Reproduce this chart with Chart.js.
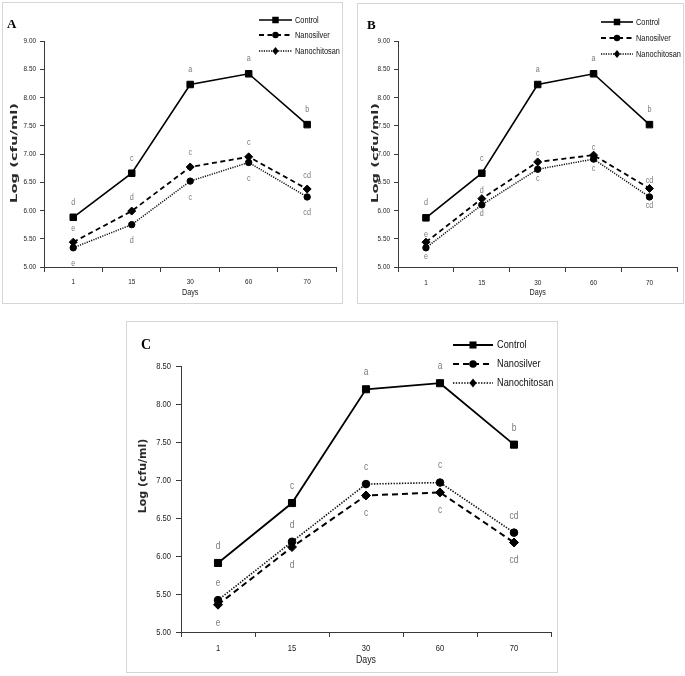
<!DOCTYPE html>
<html><head><meta charset="utf-8">
<script src="https://cdn.jsdelivr.net/npm/chart.js@4.4.1/dist/chart.umd.min.js"></script>
<style>
html,body{margin:0;padding:0;background:#fff;width:685px;height:676px;overflow:hidden;}
.panel{position:absolute;border:1px solid #d6d6d6;background:#fff;}
.panel canvas{display:block;}
</style></head><body>
<div class="panel" style="left:2px;top:2px;width:339px;height:300px"><canvas id="cA" width="339" height="300"></canvas></div>
<div class="panel" style="left:357px;top:3px;width:325px;height:299px"><canvas id="cB" width="325" height="299"></canvas></div>
<div class="panel" style="left:126px;top:321px;width:430px;height:350px"><canvas id="cC" width="430" height="350"></canvas></div>
<script>
// ---- data ----
const days = ['1', '15', '30', '60', '70'];
const seriesNames = ['Control', 'Nanosilver', 'Nanochitosan'];

const controlA = [5.88, 6.66, 8.23, 8.42, 7.52];
const silverA  = [5.44, 5.99, 6.77, 6.95, 6.38];
const chitoA   = [5.34, 5.75, 6.52, 6.85, 6.24];

const controlB = [5.87, 6.66, 8.23, 8.42, 7.52];
const silverB  = [5.44, 6.21, 6.86, 6.98, 6.39];
const chitoB   = [5.34, 6.10, 6.73, 6.91, 6.24];

const controlC = [5.91, 6.70, 8.20, 8.28, 7.47];
const silverC  = [5.36, 6.12, 6.80, 6.84, 6.18];
const chitoC   = [5.42, 6.19, 6.95, 6.97, 6.31];

const lettersControl = ['d', 'c', 'a', 'a', 'b'];
const lettersNano    = ['e', 'd', 'c', 'c', 'cd'];

const yRangeAB = [5, 9];
const yRangeC  = [5, 8.5];
const yStep = 0.5;

const panelLetters = ['A', 'B', 'C'];
const yTitle = 'Log (cfu/ml)';
const xTitle = 'Days';

// ---- drawing ----
const SANS = "'Liberation Sans',Arial,sans-serif";
const SQUEEZE = 0.8;

function narrowText(ctx, text, x, y, size, align, color) {
  ctx.save();
  ctx.translate(x, y);
  ctx.scale(SQUEEZE, 1);
  ctx.font = size + 'px ' + SANS;
  ctx.fillStyle = color;
  ctx.textAlign = align;
  ctx.textBaseline = 'middle';
  ctx.fillText(text, 0, 0);
  ctx.restore();
}

function marker(ctx, style, x, y, r) {
  ctx.beginPath();
  if (style === 'rect') { const s = r * Math.SQRT1_2; ctx.rect(x - s, y - s, 2 * s, 2 * s); }
  else if (style === 'circle') { ctx.arc(x, y, r, 0, Math.PI * 2); }
  else { ctx.moveTo(x, y - r); ctx.lineTo(x + r * 0.8, y); ctx.lineTo(x, y + r); ctx.lineTo(x - r * 0.8, y); ctx.closePath(); }
  ctx.fillStyle = '#000'; ctx.fill();
}

const deco = {
  id: 'deco',
  afterDraw(chart) {
    const o = chart.options.plugins.deco;
    const ctx = chart.ctx;
    const xs = chart.scales.x, ys = chart.scales.y;
    ctx.save();
    // tick labels (narrow)
    xs.ticks.forEach((t, i) => {
      narrowText(ctx, xs.getLabelForValue(t.value), xs.getPixelForTick(i), xs.top + o.xLblOff, o.xTick, 'center', '#222');
    });
    ys.ticks.forEach((t, i) => {
      narrowText(ctx, Number(t.value).toFixed(2), ys.right - o.yLblOff, ys.getPixelForTick(i), o.yTick, 'right', '#222');
    });
    // x title
    narrowText(ctx, xTitle, (chart.chartArea.left + chart.chartArea.right) / 2, xs.top + o.xTitleOff, o.xTitle, 'center', '#1a1a1a');
    // panel letter
    ctx.fillStyle = '#000';
    ctx.font = "bold " + o.lblSize + "px 'Liberation Serif','DejaVu Serif',serif";
    ctx.textAlign = 'left'; ctx.textBaseline = 'middle';
    ctx.fillText(o.letter, o.lblX, o.lblY);
    // y title
    ctx.save();
    ctx.translate(o.ytX, o.ytY);
    ctx.rotate(-Math.PI / 2);
    ctx.scale(o.ytScale, 1);
    ctx.font = "bold " + o.ytSize + "px 'DejaVu Sans',Verdana,sans-serif";
    ctx.fillStyle = '#2a2a2a'; ctx.textAlign = 'center'; ctx.textBaseline = 'middle';
    ctx.fillText(yTitle, 0, 0);
    ctx.restore();
    // legend
    const legendStyles = [
      {dash: [], w: o.lw[0], m: 'rect', r: o.mk[0]},
      {dash: o.dash1, w: o.lw[1], m: 'circle', r: o.mk[2]},
      {dash: o.dash2, w: o.lw[2], m: 'diamond', r: o.mk[1]}
    ];
    legendStyles.forEach((s, i) => {
      const y = o.legRows[i];
      ctx.save();
      ctx.strokeStyle = '#000'; ctx.lineWidth = s.w; ctx.setLineDash(s.dash);
      ctx.beginPath(); ctx.moveTo(o.legX0, y); ctx.lineTo(o.legX1, y); ctx.stroke();
      ctx.restore();
      marker(ctx, s.m, (o.legX0 + o.legX1) / 2, y, s.r);
      narrowText(ctx, seriesNames[i], o.legTX, y, o.legSize, 'left', '#111');
    });
    // significance letters
    const d = chart.data.datasets;
    for (let i = 0; i < days.length; i++) {
      const x = xs.getPixelForValue(i);
      narrowText(ctx, lettersControl[i], x, ys.getPixelForValue(d[0].data[i]) - o.offC, o.sigSize, 'center', '#7a7a7a');
      const hi = Math.max(d[1].data[i], d[2].data[i]);
      const lo = Math.min(d[1].data[i], d[2].data[i]);
      narrowText(ctx, lettersNano[i], x, ys.getPixelForValue(hi) - o.offUp, o.sigSize, 'center', '#7a7a7a');
      narrowText(ctx, lettersNano[i], x, ys.getPixelForValue(lo) + o.offDn, o.sigSize, 'center', '#7a7a7a');
    }
    ctx.restore();
  }
};

function makeChart(id, ctrl, silver, chito, range, p) {
  const axisColor = '#3a3a3a';
  new Chart(document.getElementById(id), {
    type: 'line',
    data: {
      labels: days,
      datasets: [
        {label: seriesNames[0], data: ctrl, borderColor: '#000', borderWidth: p.lw[0],
         pointStyle: 'rect', pointRadius: p.mk[0], pointBackgroundColor: '#000', pointBorderColor: '#000', pointBorderWidth: 1},
        {label: seriesNames[1], data: silver, borderColor: '#000', borderWidth: p.lw[1], borderDash: p.dash1,
         pointStyle: 'rectRot', pointRadius: p.mk[1], pointBackgroundColor: '#000', pointBorderColor: '#000', pointBorderWidth: 1},
        {label: seriesNames[2], data: chito, borderColor: '#111', borderWidth: p.lw[2], borderDash: p.dash2,
         pointStyle: 'circle', pointRadius: p.mk[2], pointBackgroundColor: '#000', pointBorderColor: '#000', pointBorderWidth: 1}
      ]
    },
    options: {
      responsive: false, animation: false, events: [],
      layout: {padding: {left: 0, right: p.padR, top: p.padT, bottom: 0}},
      plugins: {legend: {display: false}, tooltip: {enabled: false}, deco: p},
      scales: {
        x: {
          offset: true,
          grid: {offset: true, drawOnChartArea: false, drawTicks: true, tickLength: 5, color: axisColor},
          border: {color: axisColor, width: 1},
          ticks: {display: false, autoSkip: false},
          title: {display: false},
          afterFit: s => { s.height = p.xH; }
        },
        y: {
          min: range[0], max: range[1],
          grid: {drawOnChartArea: false, drawTicks: true, tickLength: p.yTL, color: axisColor},
          border: {color: axisColor, width: 1},
          ticks: {display: false, stepSize: yStep},
          afterFit: s => { s.width = p.yW; }
        }
      }
    },
    plugins: [deco]
  });
}

makeChart('cA', controlA, silverA, chitoA, yRangeAB, {
  letter: panelLetters[0], lblX: 4, lblY: 22, lblSize: 13,
  ytX: 12, ytY: 150, ytSize: 9.5, ytScale: 1.55,
  padR: 4, padT: 38, yW: 41, xH: 36, yTL: 4,
  xTick: 8, xLblOff: 15, xTitle: 9, xTitleOff: 26, yTick: 8, yLblOff: 8,
  legX0: 256, legX1: 289, legTX: 292, legRows: [17, 32, 48], legSize: 9.2,
  sigSize: 9, offC: 15, offUp: 14, offDn: 16,
  lw: [1.6, 1.8, 1.5], dash1: [5, 3.5], dash2: [1.2, 1.2], mk: [4.6, 4, 3.2]
});
makeChart('cB', controlB, silverB, chitoB, yRangeAB, {
  letter: panelLetters[1], lblX: 9, lblY: 22, lblSize: 13,
  ytX: 18, ytY: 149, ytSize: 9.5, ytScale: 1.55,
  padR: 3, padT: 37, yW: 40, xH: 36, yTL: 4,
  xTick: 8, xLblOff: 16, xTitle: 9, xTitleOff: 26, yTick: 8, yLblOff: 8,
  legX0: 243, legX1: 275, legTX: 278, legRows: [18, 34, 50], legSize: 9.2,
  sigSize: 9, offC: 15, offUp: 8, offDn: 9,
  lw: [1.6, 1.8, 1.5], dash1: [5, 3.5], dash2: [1.2, 1.2], mk: [4.6, 4, 3.2]
});
makeChart('cC', controlC, silverC, chitoC, yRangeC, {
  letter: panelLetters[2], lblX: 14, lblY: 23, lblSize: 14,
  ytX: 16, ytY: 154, ytSize: 11, ytScale: 1.0,
  padR: 5, padT: 44.5, yW: 54, xH: 40, yTL: 5,
  xTick: 9.5, xLblOff: 16, xTitle: 11, xTitleOff: 28, yTick: 9.5, yLblOff: 10,
  legX0: 326, legX1: 366, legTX: 370, legRows: [23, 42, 61], legSize: 11.5,
  sigSize: 10.5, offC: 17, offUp: 17, offDn: 18,
  lw: [1.8, 2, 1.6], dash1: [6, 4], dash2: [1.4, 1.4], mk: [5, 4.5, 3.8]
});
</script>
</body></html>
